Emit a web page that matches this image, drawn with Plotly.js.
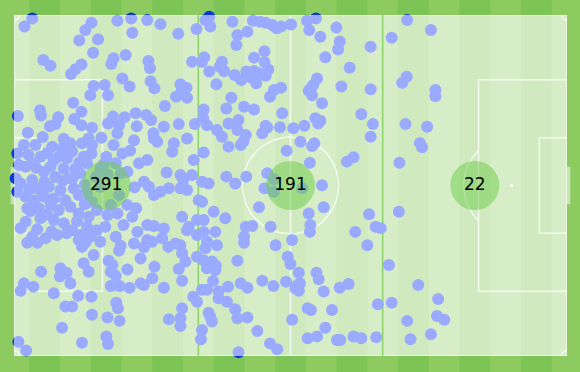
<!DOCTYPE html>
<html><head><meta charset="utf-8">
<script src="https://cdn.plot.ly/plotly-3.0.1.min.js"></script>
<style>html,body{margin:0;padding:0;background:#8dcb61;}#chart{width:580px;height:372px;}</style>
</head><body><div id="chart"></div>
<script>
// Zone labels (count of touches per third)
const zoneCounts = [291, 191, 22];
const zoneEdges = [0, 100/3, 200/3, 100];

// Touch locations, Wyscout pitch units (x: 0-100 own goal -> opp goal, y: 0-100 top -> bottom)
const defThird = [[3.3,1.0],[1.9,3.4],[14.0,2.3],[12.9,4.4],[11.8,7.5],[15.2,7.1],[14.3,11.1],[18.7,1.7],[21.2,1.0],[21.4,5.2],[24.1,1.5],[26.5,2.7],[29.7,5.5],[33.0,4.1],[5.3,13.2],[6.6,14.9],[12.2,14.5],[11.1,15.9],[10.3,17.3],[18.0,12.7],[17.6,14.4],[20.2,11.7],[24.3,13.5],[24.6,15.6],[32.2,13.7],[19.6,18.6],[20.9,21.0],[24.7,19.4],[25.4,21.5],[30.1,20.3],[31.2,21.3],[29.3,24.0],[31.3,24.3],[30.3,22.5],[14.4,20.8],[16.4,20.5],[13.8,23.5],[17.0,23.5],[27.3,26.7],[10.7,25.7],[12.2,28.4],[4.7,27.9],[4.9,29.5],[0.7,29.6],[8.0,30.0],[10.9,30.5],[6.5,32.6],[7.5,32.0],[14.1,33.1],[17.9,29.8],[20.0,30.0],[17.0,31.8],[22.0,28.8],[23.9,29.3],[24.8,30.8],[22.2,32.6],[27.1,32.8],[29.8,32.0],[32.7,32.0],[19.0,32.3],[18.7,34.7],[25.2,34.7],[12.2,32.3],
[1.8,38.1],[3.9,38.1],[6.9,38.6],[8.7,39.1],[10.2,37.6],[12.3,37.6],[14.1,38.1],[18.0,38.1],[21.7,36.7],[25.3,36.2],[25.9,37.2],[28.9,37.6],[31.3,36.2],[28.6,40.1],[0.6,40.6],[4.8,41.6],[7.2,42.5],[9.6,42.0],[12.6,41.6],[14.0,40.6],[16.7,41.6],[19.6,40.6],[22.6,43.5],[24.1,42.5],[27.6,46.2],[30.1,46.9],[30.6,48.4],[32.5,42.5],[0.9,44.0],[2.1,44.5],[3.3,43.5],[5.4,46.0],[6.6,44.5],[9.0,45.0],[11.1,45.0],[13.2,43.5],[15.6,45.0],[18.4,43.5],[19.3,46.4],[9.9,47.9],[12.0,46.4],[0.3,47.9],[1.2,49.4],[3.3,48.4],[4.2,50.8],[6.3,50.4],[8.4,51.3],[10.8,50.8],[11.7,52.8],[0.6,51.8],[2.1,53.3],[3.6,54.3],[5.4,53.3],[7.2,53.8],[9.3,54.3],[13.2,52.3],[14.1,54.8],[15.6,50.4],[19.0,52.8],[17.5,55.7],[20.5,55.7],[23.5,48.9],[24.4,50.4],[25.3,52.8],[26.5,51.8],[28.0,50.8],[30.1,50.8],[31.3,51.3],[32.2,46.9],
[2.4,56.7],[4.5,56.7],[6.6,55.7],[8.1,57.2],[10.2,56.2],[11.7,58.2],[13.5,59.2],[15.0,57.2],[16.9,58.7],[18.7,58.2],[21.4,59.2],[24.1,61.6],[25.3,61.9],[27.1,62.6],[30.4,59.2],[31.6,62.1],[2.1,60.6],[4.8,59.6],[7.2,60.1],[9.0,61.1],[10.5,63.1],[13.2,62.1],[15.0,63.1],[16.5,62.1],[18.4,65.0],[22.3,63.6],[3.3,65.0],[5.7,65.5],[7.8,64.5],[11.7,66.0],[13.8,65.0],[15.6,66.5],[19.3,67.7],[24.1,66.0],[26.8,65.5],[29.2,67.0],[31.3,63.1],[33.1,64.5],[33.1,60.1],
[2.4,66.8],[4.2,66.8],[12.3,68.0],[12.9,66.8],[14.4,70.4],[12.6,72.8],[13.5,75.3],[8.4,74.3],[9.5,75.6],[8.3,76.7],[10.2,78.7],[4.9,75.3],[1.8,78.7],[1.2,80.9],[3.5,79.7],[7.2,81.6],[11.6,82.3],[14.0,82.6],[9.3,85.5],[10.5,85.5],[14.1,87.9],[8.7,91.7],[12.3,96.1],[0.8,95.8],[2.2,98.4],[16.9,88.7],[19.1,89.7],[16.7,94.3],[17.0,96.5],[18.5,84.4],[18.8,86.0],[17.5,75.3],[18.4,76.5],[17.8,73.3],[17.1,72.1],[19.0,69.1],[20.5,74.6],[17.5,79.5],[19.1,79.5],[20.9,80.0],[22.9,78.7],[23.5,79.2],[25.0,77.2],[25.4,73.8],[22.9,71.4],[21.7,67.0],[23.5,68.1],[25.0,66.5],[27.1,80.0],[27.9,68.0],[30.1,67.5],[30.4,69.9],[31.0,72.3],[29.8,74.5],[30.4,77.9],[32.4,82.6],[33.1,70.9],[30.4,86.0],[30.1,88.9],[28.0,89.2],[30.1,91.2],[33.1,84.1],
[2.6,41.0],[4.0,44.8],[6.0,40.5],[8.1,41.6],[5.5,48.9],[7.5,47.5],[2.8,51.0],[5.2,52.5],[8.8,48.6],[3.0,57.5],[6.0,58.5],[1.2,62.5],[4.2,62.8],[6.8,63.5],[9.5,64.0],[11.4,60.5],[12.8,55.5],[10.6,47.8],[12.8,49.8],[14.8,47.5],[16.9,46.8],[16.2,43.8],[11.8,43.2],[10.5,40.0],[13.5,36.2],[9.0,36.3],[5.2,35.8],[2.5,34.5],[15.8,36.0],[21.0,39.8],[20.5,46.0],[21.8,50.5],[22.1,56.7],[19.8,61.6],[12.0,64.5]];

const midThird = [[35.3,0.5],[34.6,1.5],[35.5,3.4],[39.5,2.0],[43.2,1.7],[45.5,2.3],[46.7,2.9],[47.5,3.9],[48.3,3.4],[50.1,2.8],[53.0,1.7],[54.6,1.0],[53.4,4.4],[55.4,6.4],[58.3,3.7],[58.9,7.8],[58.6,10.1],[64.5,9.3],[42.2,4.9],[40.4,5.9],[40.2,8.8],[45.3,10.6],[43.4,12.5],[45.3,13.8],[37.6,13.7],[37.2,15.2],[34.4,12.4],[34.0,13.7],[35.3,16.6],[39.9,17.6],[41.1,19.1],[42.0,16.6],[43.4,16.4],[44.3,17.1],[45.5,17.8],[43.8,20.0],[36.6,20.3],[47.0,22.0],[48.3,21.3],[46.3,24.0],[56.3,12.4],[60.7,15.5],[54.8,18.6],[54.1,20.5],[53.3,22.2],[53.9,23.5],[59.2,21.0],[64.5,21.8],[55.7,25.9],[39.3,24.3],[34.3,27.7],[38.4,27.4],[41.6,26.9],[43.4,27.7],[48.5,28.8],[34.2,30.3],[34.9,32.3],[38.8,31.8],[40.6,30.8],[45.5,32.5],[48.1,32.9],[50.5,33.2],[52.5,32.5],[54.5,30.3],[55.4,31.0],[62.8,29.1],[64.9,32.0],
[36.7,33.7],[37.6,35.7],[40.4,33.7],[41.9,35.2],[41.0,38.1],[38.8,38.6],[44.9,34.7],[64.5,35.7],[51.8,37.2],[53.9,38.4],[54.3,37.6],[49.3,39.8],[34.3,40.3],[53.5,43.3],[60.2,43.0],[61.4,41.7],[38.4,47.4],[40.0,49.4],[42.0,47.4],[45.8,46.4],[47.0,48.2],[45.3,50.8],[47.0,51.8],[52.1,50.8],[55.7,49.9],[34.0,48.9],[35.2,49.4],[33.4,54.3],[34.0,54.8],[44.3,56.4],[53.3,58.2],[56.0,56.4],[64.2,58.4],[36.1,57.7],[38.2,59.6],[34.3,60.1],[41.9,62.1],[43.1,61.9],[46.4,62.1],[41.6,65.0],[53.6,61.6],[53.5,63.6],[61.7,63.6],[65.4,62.1],[50.3,66.0],[47.3,67.5],[34.3,63.6],[36.4,63.6],[34.9,66.5],[66.3,62.5],
[34.6,68.4],[36.7,67.5],[41.6,66.8],[63.9,67.5],[34.3,71.9],[35.8,72.3],[34.9,74.3],[36.4,74.8],[40.4,72.1],[49.5,70.9],[50.0,73.0],[51.5,75.6],[54.7,75.6],[55.1,77.5],[44.9,77.9],[46.9,79.5],[49.2,78.2],[51.7,78.7],[50.9,80.2],[51.5,80.9],[56.0,81.1],[58.9,80.0],[60.5,78.9],[41.0,78.7],[42.2,80.0],[38.7,79.7],[34.0,80.6],[34.9,80.6],[37.0,81.1],[37.0,83.1],[38.5,84.1],[40.0,86.3],[40.4,88.9],[42.2,88.7],[35.2,87.3],[35.8,89.9],[34.0,92.4],[33.8,95.1],[44.0,92.7],[46.3,96.3],[47.6,98.0],[40.6,98.9],[50.3,89.4],[53.1,86.0],[53.7,86.5],[57.5,86.5],[56.3,91.7],[53.1,94.8],[54.8,94.3],[58.4,95.3],[59.0,95.3],[61.4,94.3],[62.8,94.8],[65.5,94.5],[65.8,84.8],
[44.5,2.0],[46.0,16.0],[43.0,18.5],[38.0,16.5],[36.0,78.0],[51.0,79.5],[53.7,21.5],[36.5,73.5],[41.5,37.0],[45.8,33.0],[55.0,31.8],[35.5,88.5]];

const finThird = [[71.1,1.5],[75.4,4.4],[68.3,6.7],[71.0,18.1],[70.2,19.9],[76.2,22.0],[76.2,23.8],[70.8,32.0],[74.7,32.8],[73.4,37.5],[73.8,38.8],[69.7,43.3],[69.6,57.7],[67.8,73.3],[73.1,79.2],[68.3,84.4],[76.7,83.3],[76.5,88.3],[77.8,89.4],[71.1,89.7],[75.4,93.6],[71.7,95.1]];

const pts = defThird.concat(midThird, finThird);
const ptX = pts.map(p => p[0]);
const ptY = pts.map(p => p[1]);

// ---- pitch drawing helpers ----
const LX = [], LY = [];
function seg(xs, ys) { LX.push(...xs, null); LY.push(...ys, null); }
function arc(cx, cy, rx, ry, a0, a1) {
  const xs = [], ys = [];
  for (let i = 0; i <= 60; i++) {
    const a = a0 + (a1 - a0) * i / 60;
    xs.push(cx + rx * Math.cos(a)); ys.push(cy + ry * Math.sin(a));
  }
  seg(xs, ys);
}
const RX = 8.7, RY = 14.2;
seg([0,100,100,0,0],[0,0,100,100,0]);
seg([50,50],[0,100]);
arc(50,50,RX,RY,0,2*Math.PI);
seg([0,16,16,0],[19,19,81,81]);
seg([100,84,84,100],[19,19,81,81]);
seg([0,5,5,0],[36,36,64,64]);
seg([100,95,95,100],[36,36,64,64]);
const t = Math.acos(6/RX);
arc(10,50,RX,RY,-t,t);
arc(90,50,RX,RY,Math.PI-t,Math.PI+t);
arc(0,0,1,1.6,0,Math.PI/2);
arc(100,0,1,1.6,Math.PI/2,Math.PI);
arc(100,100,1,1.6,Math.PI,1.5*Math.PI);
arc(0,100,1,1.6,1.5*Math.PI,2*Math.PI);

// stripes
const SX = [], SY = [], shapes = [];
for (let k = 0; k < 9; k++) {
  const a = 100/36 + k*100/9, b = a + 100/18;
  SX.push(a,b,b,a,a,null); SY.push(0,0,100,100,0,null);
  shapes.push({type:'rect', xref:'paper', yref:'paper', x0:a/100, x1:b/100, y0:-0.2, y1:1.2,
    fillcolor:'#7cc455', line:{width:0}, layer:'below'});
}
// goals (outside the pitch)
shapes.push({type:'rect', xref:'paper', yref:'paper', x0:1.0, x1:1.006, y0:0.445, y1:0.555,
  fillcolor:'rgba(255,255,255,0.5)', line:{width:0}, layer:'below'});
shapes.push({type:'rect', xref:'paper', yref:'paper', x0:-0.006, x1:0, y0:0.445, y1:0.555,
  fillcolor:'rgba(255,255,255,0.5)', line:{width:0}, layer:'below'});

const ZX = [], ZY = [];
[zoneEdges[1], zoneEdges[2]].forEach(e => { ZX.push(e, e, null); ZY.push(0, 100, null); });
const zoneMidX = zoneCounts.map((_, i) => (zoneEdges[i] + zoneEdges[i+1]) / 2);

const DOT = 12;
const traces = [
  {type:'scatter', mode:'markers', x:ptX, y:ptY, cliponaxis:false, hoverinfo:'skip',
   marker:{size:DOT, color:'#0a3ad6', line:{width:0}}},
  {type:'scatter', mode:'lines', x:[0,100,100,0,0], y:[0,0,100,100,0], fill:'toself',
   fillcolor:'#d7edc7', line:{width:0}, hoverinfo:'skip'},
  {type:'scatter', mode:'lines', x:SX, y:SY, fill:'toself', fillcolor:'#d0e9bf',
   line:{width:0}, hoverinfo:'skip'},
  {type:'scatter', mode:'lines', x:LX, y:LY, line:{color:'rgba(255,255,255,0.75)', width:1.5},
   connectgaps:false, hoverinfo:'skip'},
  {type:'scatter', mode:'markers', x:[10,50,90], y:[50,50,50], hoverinfo:'skip',
   marker:{size:3.5, color:'rgba(255,255,255,0.8)'}},
  {type:'scatter', mode:'lines', x:ZX, y:ZY, line:{color:'#8ad26b', width:1.5},
   connectgaps:false, hoverinfo:'skip'},
  {type:'scatter', mode:'markers', x:ptX, y:ptY, cliponaxis:true, hoverinfo:'skip',
   marker:{size:DOT, color:'#9aabff', line:{width:0}}},
  {type:'scatter', mode:'markers+text', x:zoneMidX, y:zoneMidX.map(() => 50),
   text:zoneCounts.map(String), textposition:'middle center', hoverinfo:'skip', cliponaxis:false,
   textfont:{family:'DejaVu Sans', size:17, color:'#000000'},
   marker:{size:49, color:'rgba(107,204,72,0.5)', line:{width:0}}}
];

const layout = {
  width:580, height:372,
  margin:{l:14, r:13, t:15, b:16, pad:0},
  paper_bgcolor:'#8dcb61', plot_bgcolor:'rgba(0,0,0,0)',
  showlegend:false,
  xaxis:{range:[0,100], visible:false, showgrid:false, zeroline:false, fixedrange:true},
  yaxis:{range:[100,0], visible:false, showgrid:false, zeroline:false, fixedrange:true},
  shapes:shapes
};

Plotly.newPlot('chart', traces, layout, {displayModeBar:false, staticPlot:true});
</script>
</body></html>
